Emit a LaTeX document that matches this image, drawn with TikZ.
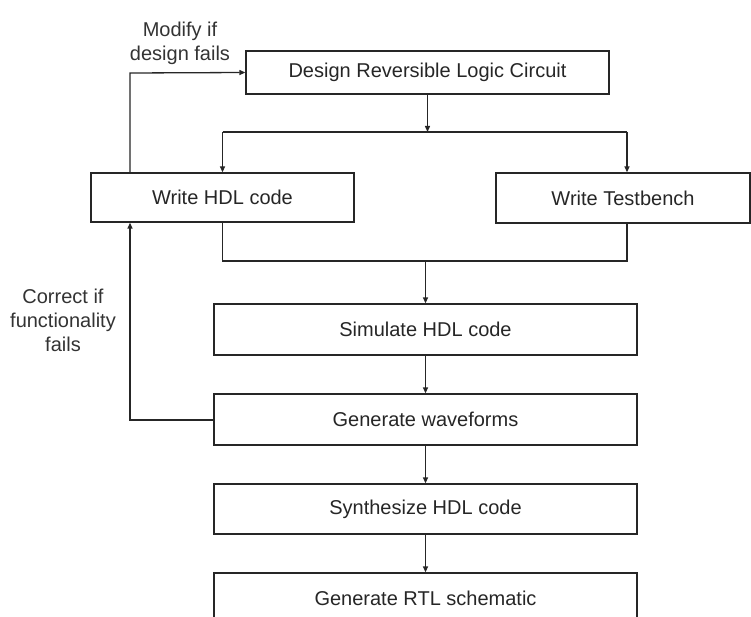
\documentclass[tikz,border=0pt]{standalone}
\usepackage{fontspec}
\setmainfont{Liberation Sans}
\usetikzlibrary{arrows.meta}
\begin{document}
\begin{tikzpicture}[x=1pt,y=-1pt,
  box/.style={draw=black!85, line width=1.3pt, inner sep=0pt, font=\fontsize{20}{24}\selectfont, text=black!85},
  conn/.style={draw=black!85, line width=1.3pt},
  arr/.style={conn, -{Triangle[length=6pt,width=5pt]}},
  lbl/.style={align=center, font=\fontsize{20}{24}\selectfont, text=black!80}]
\useasboundingbox (0,0) rectangle (751,617);
\clip (0,0) rectangle (751,617);
\node[box, minimum width=363pt, minimum height=43pt] (design) at (427.5,72.5) {Design Reversible Logic Circuit};
\node[box, minimum width=263pt, minimum height=49pt] (hdl) at (222.5,197.5) {Write HDL code};
\node[box, minimum width=254pt, minimum height=50pt] (tb) at (623,198) {Write Testbench};
\node[box, minimum width=423pt, minimum height=51pt] (sim) at (425.5,329.5) {Simulate HDL code};
\node[box, minimum width=423pt, minimum height=51pt] (gen) at (425.5,419.5) {Generate waveforms};
\node[box, minimum width=423pt, minimum height=50pt] (syn) at (425.5,509) {Synthesize HDL code};
\node[box, minimum width=423pt, minimum height=50pt] (rtl) at (425.5,598) {Generate RTL schematic};
\node[lbl] (lmod) at (180,43) {Modify if\\design fails};
\node[lbl] (lcor) at (63,320) {Correct if\\functionality\\fails};
\coordinate (s1) at (222.5,132);
\coordinate (s2) at (627,132);
\coordinate (m1) at (222.5,261);
\coordinate (m2) at (627,261);
\coordinate (m3) at (425.5,261);
\coordinate (fb1) at (130,420);
\coordinate (fb2) at (130,73);
% split
\draw[arr] (design.south) -- (design.south |- s1);
\draw[conn] (s1) -- (s2);
\draw[arr] (s1) -- (hdl.north);
\draw[arr] (s2) -- (s2 |- tb.north);
% merge
\draw[conn] (hdl.south) -- (m1) -- (m2) -- (m2 |- tb.south);
\draw[arr] (m3) -- (sim.north);
\draw[arr] (sim.south) -- (gen.north);
\draw[arr] (gen.south) -- (syn.north);
\draw[arr] (syn.south) -- (rtl.north);
% feedback loops
\draw[arr] (gen.west |- fb1) -- (fb1) -- (fb1 |- hdl.south);
\draw[arr] (fb2 |- hdl.north) -- (fb2) -- (design.west);
\end{tikzpicture}
\end{document}
